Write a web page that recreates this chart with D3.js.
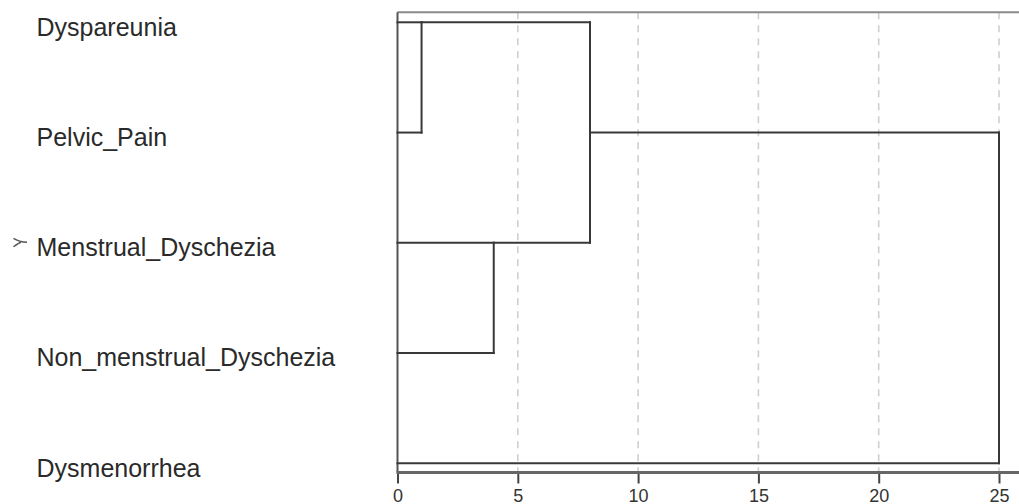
<!DOCTYPE html>
<html>
<head>
<meta charset="utf-8">
<script src="https://cdn.jsdelivr.net/npm/d3@7"></script>
<style>
  html, body { margin: 0; padding: 0; background: #fff; }
  svg { display: block; }
</style>
</head>
<body>
<svg id="chart" width="1019" height="504"></svg>
<script>
// ---- data ----
const labels = ["Dyspareunia", "Pelvic_Pain", "Menstrual_Dyschezia", "Non_menstrual_Dyschezia", "Dysmenorrhea"];
// agglomeration steps: children ids (0..4 leaves, 5.. clusters in order) and rescaled distance
const mergeLeft = [0, 2, 5, 7];
const mergeRight = [1, 3, 6, 4];
const mergeDist = [1, 4, 8, 25];
const tickValues = [0, 5, 10, 15, 20, 25];
const markedLabel = "Menstrual_Dyschezia";

// ---- layout ----
const W = 1019, H = 504;
const svg = d3.select("#chart");
const x = d3.scaleLinear().domain([0, 25]).range([397.5, 999]);
const y = d3.scaleLinear().domain([0, labels.length - 1]).range([22.3, 463.3]);
const frameTop = 12.3, axisY = 472.5;

// grid lines
svg.append("g").selectAll("line").data(tickValues.filter(d => d > 0)).join("line")
  .attr("x1", d => x(d)).attr("x2", d => x(d))
  .attr("y1", frameTop).attr("y2", axisY)
  .attr("stroke", "#cfcfcf").attr("stroke-width", 1.6)
  .attr("stroke-dasharray", "7,6");

// frame: top and left
svg.append("line").attr("x1", x(0)).attr("x2", W).attr("y1", frameTop).attr("y2", frameTop)
  .attr("stroke", "#8a8a8a").attr("stroke-width", 2);
svg.append("line").attr("x1", x(0)).attr("x2", x(0)).attr("y1", frameTop).attr("y2", axisY)
  .attr("stroke", "#555").attr("stroke-width", 2);

// axis
const axis = d3.axisBottom(x).tickValues(tickValues).tickSize(11).tickSizeOuter(0).tickFormat(d3.format("d"));
const gAxis = svg.append("g").attr("transform", `translate(0,${axisY})`).call(axis);
gAxis.select(".domain").remove();
gAxis.selectAll(".tick line").attr("stroke", "#444").attr("stroke-width", 2);
gAxis.selectAll(".tick text")
  .attr("y", 29).attr("dy", 0)
  .attr("fill", "#333")
  .style("font-family", "'Liberation Sans', Arial, sans-serif")
  .style("font-size", "18px");
svg.append("line").attr("x1", x(0) - 1).attr("x2", W).attr("y1", axisY).attr("y2", axisY)
  .attr("stroke", "#666").attr("stroke-width", 3);

// dendrogram
const nodes = labels.map((l, i) => ({ row: i, dist: 0 }));
const segs = [];
mergeDist.forEach((d, k) => {
  const a = nodes[mergeLeft[k]], b = nodes[mergeRight[k]];
  segs.push({ x1: a.dist, x2: d, r1: a.row, r2: a.row });
  segs.push({ x1: b.dist, x2: d, r1: b.row, r2: b.row });
  segs.push({ x1: d, x2: d, r1: a.row, r2: b.row });
  nodes.push({ row: Math.floor((a.row + b.row) / 2), dist: d });
});
svg.append("g").selectAll("line").data(segs).join("line")
  .attr("x1", s => x(s.x1)).attr("x2", s => x(s.x2))
  .attr("y1", s => y(s.r1)).attr("y2", s => y(s.r2))
  .attr("stroke", "#383838").attr("stroke-width", 2)
  .attr("stroke-linecap", "square");

// labels
svg.append("g").selectAll("text").data(labels).join("text")
  .attr("x", 36.5).attr("y", (d, i) => y(i) + 13.3)
  .attr("fill", "#2a2a2a")
  .style("font-family", "'Liberation Sans', Arial, sans-serif")
  .style("font-size", "25px")
  .text(d => d);

// marker before highlighted label
const mi = labels.indexOf(markedLabel);
const my = y(mi);
svg.append("path")
  .attr("d", `M13.5,${my - 4.5} Q19,${my - 1} 27,${my - 0.5} M13.5,${my + 4} Q19,${my} 21,${my - 0.5}`)
  .attr("fill", "none").attr("stroke", "#555").attr("stroke-width", 1.4);
</script>
</body>
</html>
